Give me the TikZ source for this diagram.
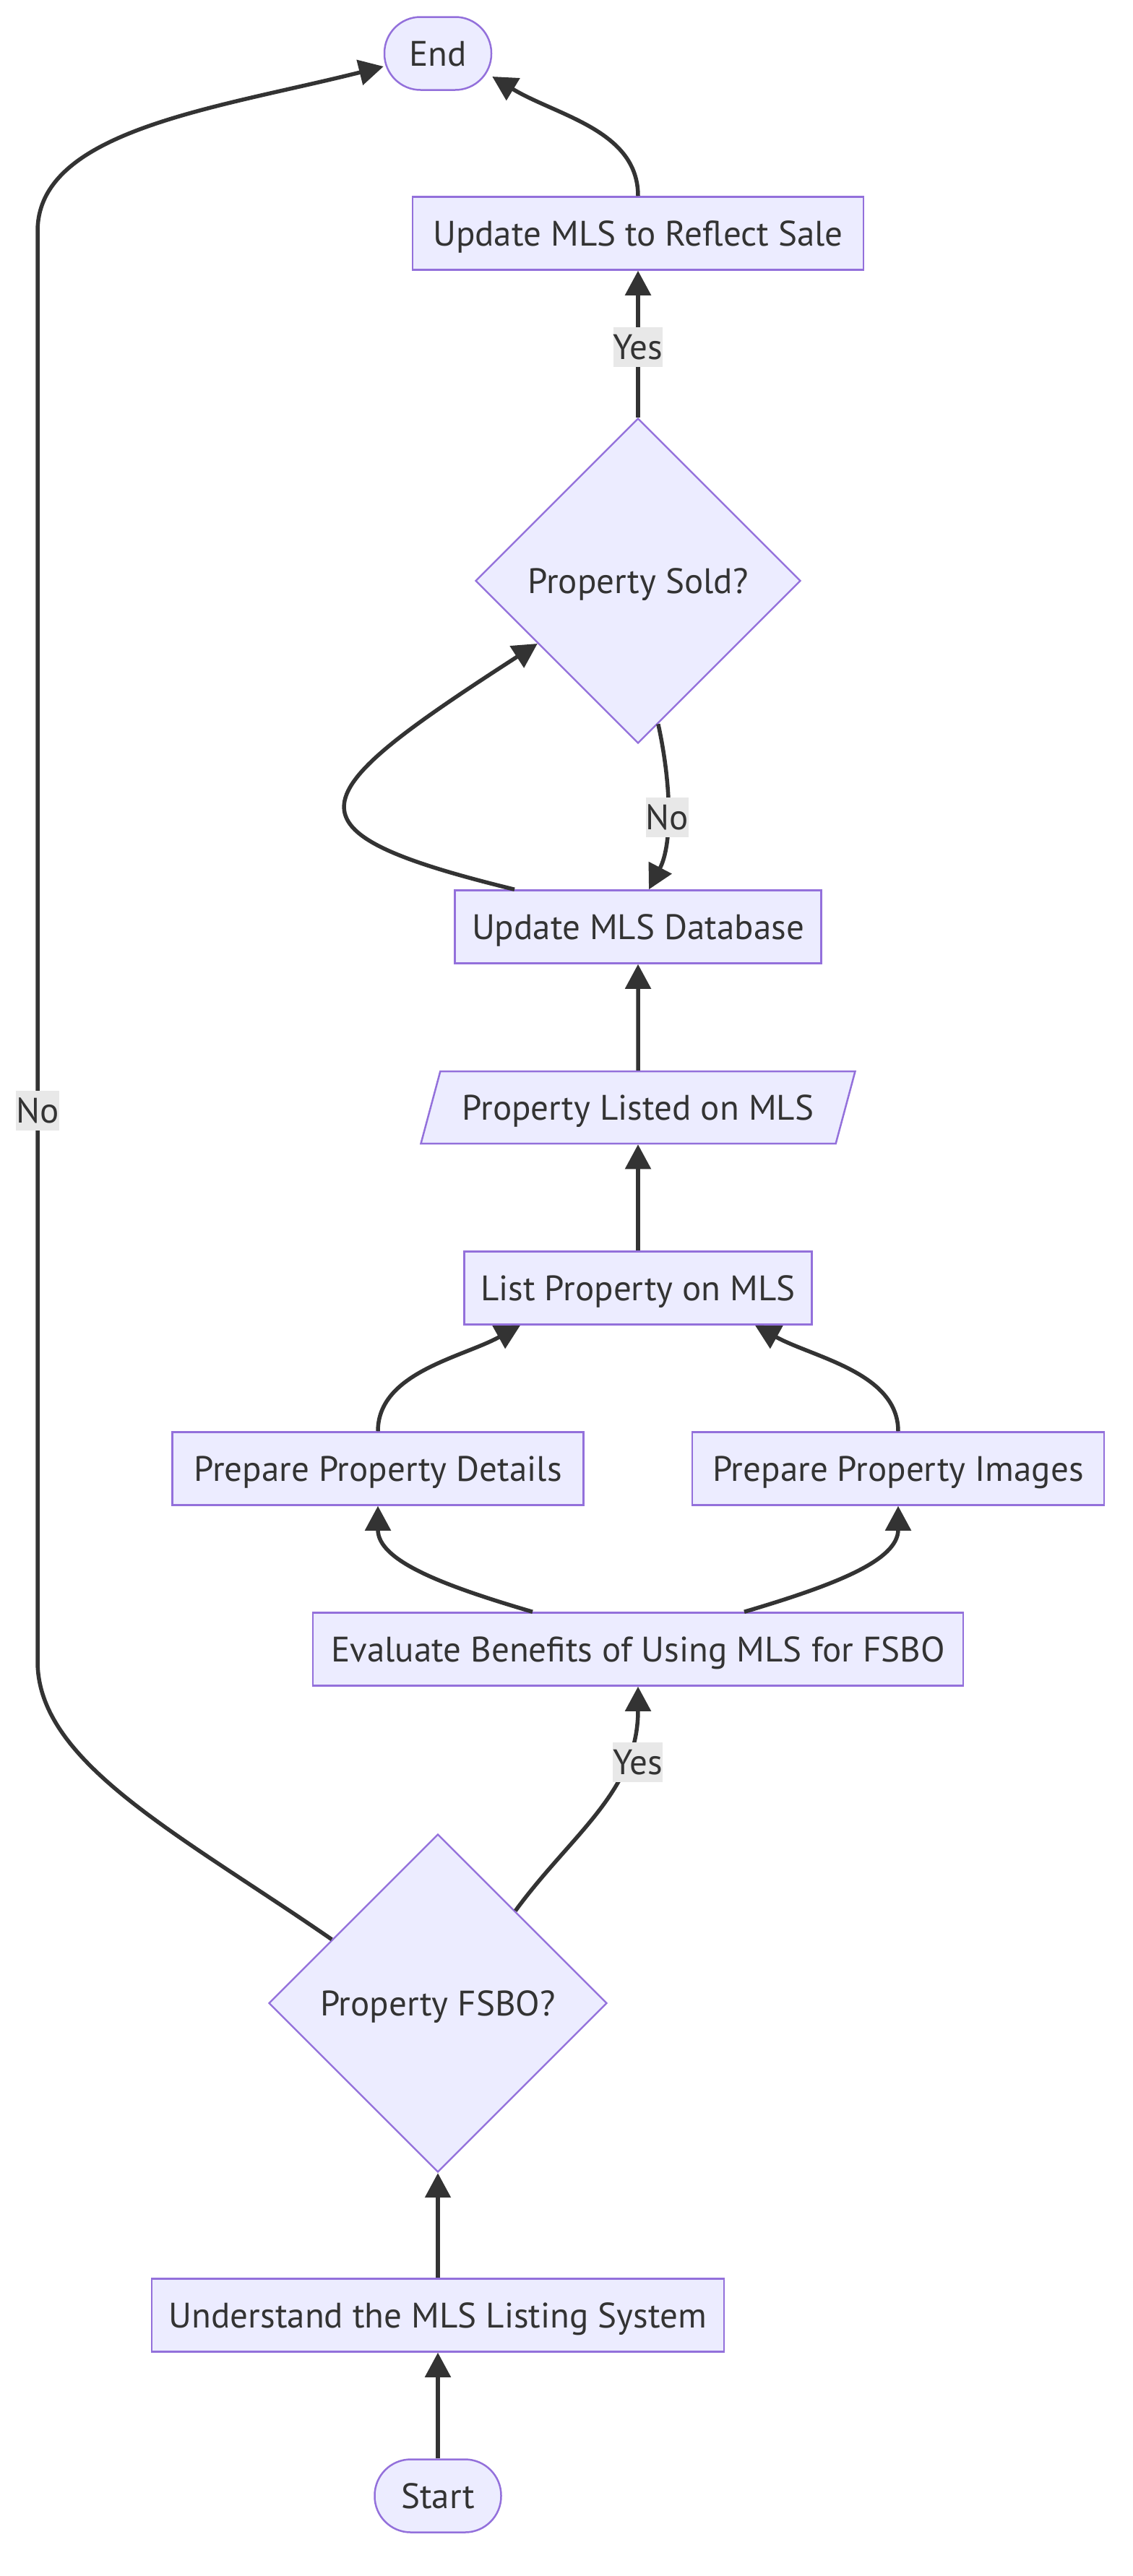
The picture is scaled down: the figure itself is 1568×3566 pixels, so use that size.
\documentclass[tikz,border=0pt]{standalone}
\usepackage{fontspec}
\setmainfont{PT Sans}
\usetikzlibrary{shapes.geometric, arrows.meta}

\definecolor{nodefill}{HTML}{ECECFF}
\definecolor{nodeline}{HTML}{9370DB}
\definecolor{edgeline}{HTML}{333333}
\definecolor{labelfill}{HTML}{E8E8E8}

\begin{document}
\begin{tikzpicture}[x=1pt, y=-1pt,
        every node/.style={text=edgeline, font=\fontsize{49}{59}\selectfont, text height=40pt, text depth=6pt},
        box/.style={draw=nodeline, fill=nodefill, line width=2.5pt, minimum height=101pt, inner xsep=18pt},
        term/.style={box, rounded corners=50pt},
        decision/.style={diamond, aspect=1, draw=nodeline, fill=nodefill, line width=2.3pt, inner sep=0pt},
        data/.style={trapezium, trapezium left angle=63, trapezium right angle=117, trapezium stretches body,
            draw=nodeline, fill=nodefill, line width=2.5pt, minimum height=100pt, inner xsep=4pt},
        flow/.style={draw=edgeline, line width=5.5pt, -{Triangle[length=34pt, width=35pt]}},
        lbl/.style={fill=labelfill, inner xsep=0pt, inner ysep=2.5pt, text height=42pt, text depth=8pt}]

                \useasboundingbox (0, 0) rectangle (1568, 3566);

                \node[term, minimum width=148pt] (N12) at (606, 74) {End};
                \node[box, minimum width=624pt] (N11) at (883, 323) {Update MLS to Reflect Sale};
                \node[decision, minimum size=450pt] (N10) at (883, 804) {Property Sold?};
                \node[box, minimum width=507pt] (N9) at (883, 1283) {Update MLS Database};
                \node[data, minimum width=601pt] (N8) at (883, 1533) {Property Listed on MLS};
                \node[box, minimum width=481pt] (N7) at (883, 1783) {List Property on MLS};

                \node[box, minimum width=569pt] (N5) at (523, 2033) {Prepare Property Details};
                \node[box, minimum width=570pt] (N6) at (1243, 2033) {Prepare Property Images};

                \node[box, minimum width=900pt] (N4) at (883, 2283) {Evaluate Benefits of Using MLS for FSBO};
                \node[decision, minimum size=468pt] (N3) at (606, 2773) {Property FSBO?};
                \node[box, minimum width=792pt] (N2) at (606, 3205) {Understand the MLS Listing System};
                \node[term, minimum width=175pt] (N1) at (606, 3455) {Start};

                \coordinate (W1) at (52, 2300);
                \coordinate (W2) at (52, 320);

                \draw[flow] (N1) -- (N2);
                \draw[flow] (N2) -- (N3);

                \draw[flow] (N3.50) .. controls (790, 2540) and (883, 2480) .. node[lbl, pos=0.72, xshift=19pt] {Yes} (N4.south);
                \draw[flow] (N3.149) .. controls (250, 2540) and (52, 2440) .. (W1)
                    -- node[lbl, pos=0.385] {No} (W2) .. controls (52, 180) and (300, 150) .. ([yshift=-18pt]N12.west);

                \draw[flow] ([xshift=-146pt]N4.north) .. controls (610, 2194) and (523, 2160) .. (N5.south);
                \draw[flow] ([xshift=147pt]N4.north) .. controls (1156, 2194) and (1243, 2160) .. (N6.south);

                \draw[flow] (N5.north) .. controls (523, 1900) and (640, 1879) .. ([xshift=-163pt]N7.south);
                \draw[flow] (N6.north) .. controls (1243, 1900) and (1125, 1879) .. ([xshift=162pt]N7.south);

                \draw[flow] (N7) -- (N8);
                \draw[flow] (N8) -- (N9);

                \draw[flow] ([xshift=-171pt]N9.north) .. controls (380, 1150) and (414, 1104) .. (N10.212);
                \draw[flow] (N10.278) .. controls (930, 1090) and (930, 1170) .. node[lbl, pos=0.52] {No} ([xshift=15pt]N9.north);

                \draw[flow] (N10) -- node[lbl, pos=0.48] {Yes} (N11);
                \draw[flow] (N11.north) .. controls (883, 180) and (770, 160) .. ([yshift=-32pt]N12.east);
            \end{tikzpicture}
\end{document}
